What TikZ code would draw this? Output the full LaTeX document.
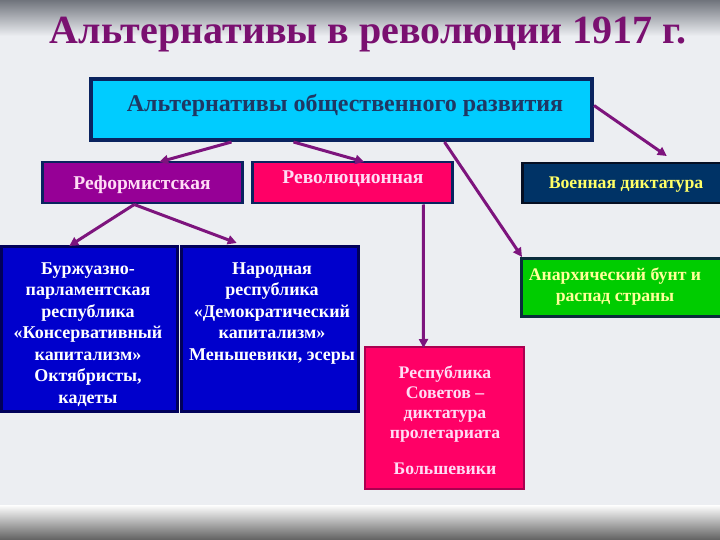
\documentclass[tikz,border=0pt]{standalone}
\usepackage{fontspec}
\setmainfont{Liberation Serif}
\usetikzlibrary{arrows.meta,calc}
\definecolor{titlepurple}{RGB}{122,16,112}
\definecolor{arrowpurple}{RGB}{125,20,125}
\definecolor{cyanfill}{RGB}{0,204,255}
\definecolor{navy}{RGB}{10,35,95}
\definecolor{topnavy}{RGB}{31,56,100}
\definecolor{reffill}{RGB}{150,0,150}
\definecolor{revfill}{RGB}{255,0,102}
\definecolor{milfill}{RGB}{0,51,102}
\definecolor{greenfill}{RGB}{0,204,0}
\definecolor{bluefill}{RGB}{0,0,204}
\definecolor{paleyellow}{RGB}{255,255,153}
\definecolor{milyellow}{RGB}{255,255,102}
\definecolor{palepink}{RGB}{255,220,245}
\definecolor{bgmid}{RGB}{236,238,242}
\begin{document}
\begin{tikzpicture}[x=1pt,y=-1pt,
  box/.style={anchor=north west,inner sep=0pt,line width=2.5pt,draw=navy},
  arr/.style={draw=arrowpurple,line width=3pt,-{Triangle[length=9pt,width=9pt]}},
  lbl/.style={font=\fontsize{18}{21.5}\selectfont\bfseries,align=center,inner sep=0pt,anchor=base}]
\useasboundingbox (0,0) rectangle (720,540);
\fill[bgmid] (0,0) rectangle (720,540);
\shade[top color={rgb,255:red,112;green,116;blue,124},bottom color=bgmid] (0,0) rectangle (720,36);
\shade[top color=white!96!bgmid,bottom color={rgb,255:red,96;green,96;blue,96}] (0,505) rectangle (720,540);
% title
\node[anchor=base,text=titlepurple,font=\fontsize{40}{44}\selectfont\bfseries,inner sep=0pt] (title) at (368,44) {Альтернативы в революции 1917 г.};
% boxes
\node[box,fill=cyanfill,draw=navy,line width=4pt,minimum width=501pt,minimum height=61pt] (top) at (89,77) {};
\node[box,fill=reffill,minimum width=200pt,minimum height=41pt] (ref) at (41,161) {};
\node[box,fill=revfill,minimum width=200pt,minimum height=41pt] (rev) at (251,161) {};
\node[box,fill=milfill,draw={rgb,255:red,5;green,15;blue,35},minimum width=199pt,minimum height=40pt] (mil) at (521,162) {};
\node[box,fill=greenfill,draw={rgb,255:red,10;green,45;blue,60},minimum width=200pt,minimum height=58pt] (anar) at (520,257) {};
\node[box,fill=bluefill,draw={rgb,255:red,0;green,0;blue,90},minimum width=176pt,minimum height=165pt] (bour) at (0,245) {};
\node[box,fill=bluefill,draw={rgb,255:red,0;green,0;blue,90},minimum width=177pt,minimum height=165pt] (narod) at (180,245) {};
\node[box,fill=revfill,draw={rgb,255:red,170;green,0;blue,80},line width=2pt,minimum width=159pt,minimum height=142pt] (sov) at (364,346) {};
% texts
\node[lbl,text=topnavy,font=\fontsize{24}{28}\selectfont\bfseries] (toptxt) at (345,112) {Альтернативы общественного развития};
\node[lbl,text=palepink,font=\fontsize{19.5}{22}\selectfont\bfseries] (reftxt) at (142,190) {Реформистская};
\node[lbl,text=palepink,font=\fontsize{19.5}{22}\selectfont\bfseries] (revtxt) at (353,184) {Революционная};
\node[lbl,text=milyellow,font=\fontsize{17.7}{20}\selectfont\bfseries] (miltxt) at (626,189) {Военная диктатура};
\node[lbl,text=paleyellow,font=\fontsize{17.7}{21}\selectfont\bfseries] (anartxt) at (615,301) {Анархический бунт и\\распад страны};
\node[lbl,text=white] (bourtxt) at (88,403) {Буржуазно-\\парламентская\\республика\\«Консервативный\\капитализм»\\Октябристы,\\кадеты};
\node[lbl,text=white] (narodtxt) at (272,360) {Народная\\республика\\«Демократический\\капитализм»\\Меньшевики, эсеры};
\node[lbl,text=palepink,font=\fontsize{17.7}{20}\selectfont\bfseries] (sovtxt) at (445,438) {Республика\\Советов –\\диктатура\\пролетариата};
\node[lbl,text=palepink,font=\fontsize{17.7}{20}\selectfont\bfseries] (sovtxt2) at (445,474) {Большевики};
% arrows
\draw[arr] ([xshift=-110pt]top.south) -- ([xshift=17pt,yshift=-1pt]ref.north);
\draw[arr] ([xshift=-48pt]top.south) -- ([xshift=12pt,yshift=-1pt]rev.north);
\draw[arr] ([xshift=103pt]top.south) -- ([xshift=2pt]anar.north west);
\draw[arr] ([yshift=4pt]top.east) -- ([xshift=45pt,yshift=6pt]mil.north);
\draw[arr] ([xshift=-8pt]ref.south) -- ([xshift=-20pt,yshift=-1pt]bour.north);
\draw[arr] ([xshift=-8pt]ref.south) -- ([xshift=-33pt,yshift=2pt]narod.north);
\draw[arr] ([xshift=71pt]rev.south) -- ([xshift=-21pt,yshift=-2pt]sov.north);
\end{tikzpicture}
\end{document}
